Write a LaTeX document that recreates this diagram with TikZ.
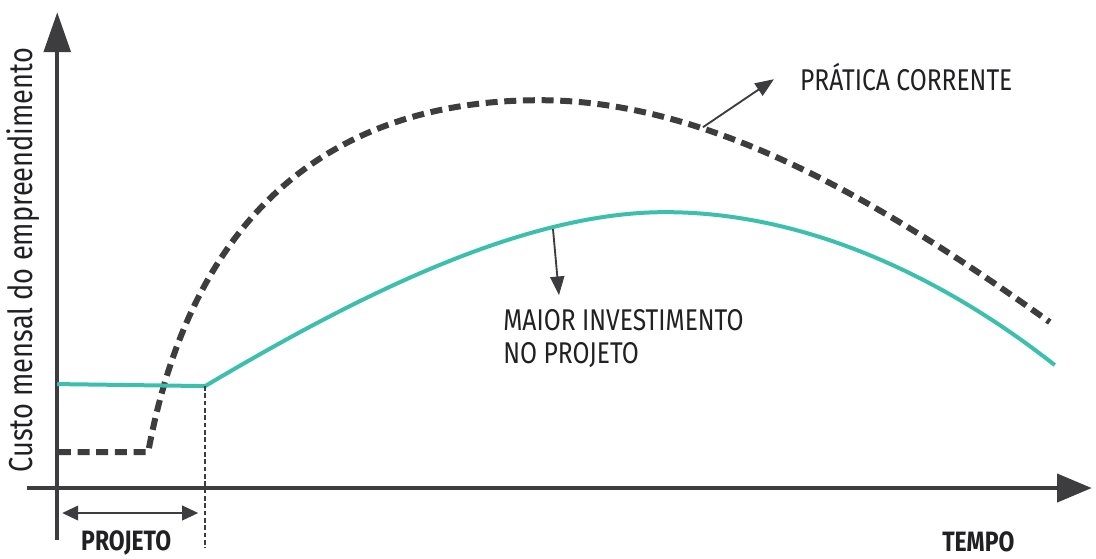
\documentclass[tikz,border=0pt]{standalone}
\usepackage[x11names, svgnames, rgb]{xcolor}
\usepackage{fontspec}
\usepackage{tikz}
\usetikzlibrary{arrows.meta,shapes}
\newfontfamily\lblfont[FakeStretch=0.82]{Fira Sans}
\newfontfamily\lblbold[FakeStretch=0.82]{Fira Sans Bold}

\begin{document}
\begin{tikzpicture}[>={Triangle[length=12bp,width=11bp]},line join=bevel,
  axis/.style={draw=axiscol,line width=3bp},
  practice/.style={draw=axiscol,line width=4.5bp,dash pattern=on 9bp off 5bp},
  invest/.style={draw=investcol,line width=3bp},
  pointer/.style={draw=axiscol,line width=1.4bp},
  lbl/.style={font=\lblfont\fontsize{22.5bp}{25bp}\selectfont,text=txtcol,inner sep=0pt},
  bold lbl/.style={font=\lblbold\fontsize{21bp}{24bp}\selectfont,text=txtcol,inner sep=0pt}]
%%
\definecolor{axiscol}{rgb}{0.24,0.24,0.25}
\definecolor{investcol}{rgb}{0.24,0.75,0.68}
\definecolor{txtcol}{rgb}{0.13,0.13,0.14}
\begin{scope}
  \definecolor{fillcol}{rgb}{1.0,1.0,1.0};
  \pgfsetfillcolor{fillcol}
  \pgfsetstrokecolor{fillcol}
  \filldraw (0.0bp,0.0bp) -- (0.0bp,418.5bp) -- (822.0bp,418.5bp) -- (822.0bp,0.0bp) -- cycle;
\end{scope}
  \coordinate (Ybot) at (42.75bp,13.5bp);
  \coordinate (Ytop) at (42.75bp,409.5bp);
  \coordinate (Xlft) at (20.25bp,52.5bp);
  \coordinate (Xrgt) at (819.0bp,52.5bp);
  \coordinate (I0) at (42.75bp,130.5bp);
  \coordinate (I1) at (153.75bp,129.0bp);
  \coordinate (I2) at (498.75bp,259.5bp);
  \coordinate (I3) at (791.25bp,144.75bp);
  \coordinate (D0) at (44.0bp,79.5bp);
  \coordinate (D1) at (111.0bp,79.5bp);
  \coordinate (D2) at (405.0bp,343.5bp);
  \coordinate (D3) at (787.5bp,177.0bp);
  \coordinate (Pend) at (153.75bp,7.5bp);
  \coordinate (Pl) at (46.5bp,33.75bp);
  \coordinate (Pr) at (148.5bp,33.75bp);
  \coordinate (PCfoot) at (527.25bp,323.25bp);
  \coordinate (PCtip) at (580.5bp,359.25bp);
  \coordinate (MIfoot) at (414.75bp,246.75bp);
  \coordinate (MItip) at (419.25bp,197.25bp);
  \node (YL) at (17.5bp,223.5bp) [lbl,rotate=90,font=\lblfont\fontsize{24.9bp}{27bp}\selectfont] {Custo mensal do empreendimento};
  \node (PRJ) at (94.5bp,6.0bp) [bold lbl,anchor=base] {PROJETO};
  \node (TMP) at (733.9bp,5.0bp) [bold lbl,anchor=base] {TEMPO};
  \node (PC) at (600.0bp,351.0bp) [lbl,anchor=base west] {PRÁTICA CORRENTE};
  \node (MI) at (377.25bp,171.0bp) [lbl,anchor=base west] {MAIOR INVESTIMENTO};
  \node (NP) at (377.25bp,146.25bp) [lbl,anchor=base west] {NO PROJETO};
  % axes
  \draw [axis,-{Triangle[length=30bp,width=20bp]}] (Ybot) -- (Ytop);
  \draw [axis,-{Triangle[length=26bp,width=21bp]}] (Xlft) -- (Xrgt);
  % curves
  \draw [practice] (D0) -- (D1) ..controls (144.0bp,257.25bp) and (247.5bp,343.5bp) .. (D2)
        ..controls (540.0bp,343.5bp) and (675.0bp,257.25bp) .. (D3);
  \draw [invest] (I0) -- (I1) ..controls (262.5bp,193.5bp) and (390.0bp,259.5bp) .. (I2)
        ..controls (615.0bp,259.5bp) and (720.0bp,201.0bp) .. (I3);
  \draw [axiscol,line width=1.3bp,dash pattern=on 3.5bp off 2bp] (I1) -- (Pend);
  \draw [pointer,<->] (Pl) -- (Pr);
  % pointers to labels
  \draw [pointer,-{Triangle[length=14bp,width=11bp]}] (PCfoot) -- (PCtip);
  \draw [pointer,-{Triangle[length=14bp,width=10.5bp]}] (MIfoot) -- (MItip);
%
\end{tikzpicture}
\end{document}
